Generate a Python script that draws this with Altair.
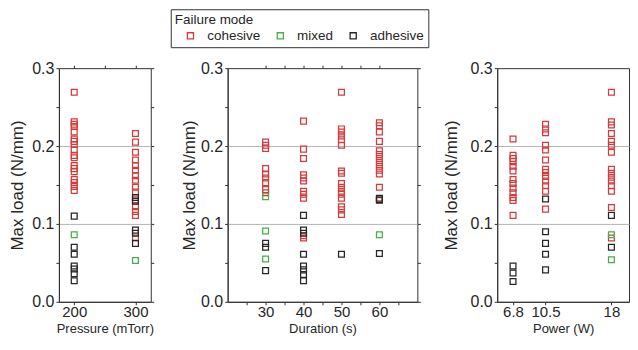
import altair as alt
import pandas as pd

# ---------------- data ----------------
MODES = ["cohesive", "mixed", "adhesive"]
MODE_COLORS = ["#d63a3a", "#46ad4b", "#262626"]

pressure_ticks = [200, 300]
duration_ticks = [30, 40, 50, 60]
power_ticks = [6.8, 10.5, 18]

# Pressure (mTorr)
p200_cohesive = [0.269, 0.231, 0.228, 0.225, 0.218, 0.209, 0.206, 0.202, 0.195, 0.188, 0.185,
                 0.175, 0.171, 0.167, 0.157, 0.153, 0.148, 0.143]
p200_mixed = [0.086]
p200_adhesive = [0.110, 0.070, 0.061, 0.046, 0.042, 0.036, 0.027]

p300_cohesive = [0.216, 0.205, 0.192, 0.182, 0.175, 0.169, 0.162, 0.156, 0.147, 0.141, 0.131,
                 0.122, 0.116, 0.111, 0.082]
p300_mixed = [0.053]
p300_adhesive = [0.134, 0.129, 0.092, 0.088, 0.075]

# Duration (s)
d30_cohesive = [0.205, 0.201, 0.197, 0.171, 0.164, 0.159, 0.153, 0.144, 0.140]
d30_mixed = [0.135, 0.091, 0.055]
d30_adhesive = [0.075, 0.070, 0.040]

d40_cohesive = [0.232, 0.196, 0.184, 0.163, 0.159, 0.155, 0.142, 0.138, 0.133, 0.085, 0.082]
d40_mixed = []
d40_adhesive = [0.111, 0.092, 0.088, 0.061, 0.046, 0.041, 0.035, 0.027]

d50_cohesive = [0.269, 0.222, 0.218, 0.213, 0.208, 0.201, 0.168, 0.165, 0.152, 0.147, 0.142,
                0.138, 0.133, 0.122, 0.118, 0.112]
d50_mixed = []
d50_adhesive = [0.061]

d60_cohesive = [0.230, 0.226, 0.218, 0.206, 0.194, 0.189, 0.184, 0.179, 0.174, 0.169, 0.164,
                0.147, 0.130]
d60_mixed = [0.086]
d60_adhesive = [0.133, 0.131, 0.062]

# Power (W)
w68_cohesive = [0.209, 0.188, 0.184, 0.180, 0.174, 0.168, 0.157, 0.152, 0.146, 0.140, 0.134,
                0.130, 0.111]
w68_mixed = []
w68_adhesive = [0.046, 0.037, 0.026]

w105_cohesive = [0.228, 0.222, 0.217, 0.201, 0.195, 0.182, 0.170, 0.166, 0.161, 0.155, 0.149,
                 0.142, 0.119]
w105_mixed = []
w105_adhesive = [0.132, 0.090, 0.075, 0.061, 0.041]

w18_cohesive = [0.269, 0.231, 0.227, 0.216, 0.206, 0.201, 0.192, 0.170, 0.165, 0.160, 0.155,
                0.149, 0.142, 0.121, 0.082]
w18_mixed = [0.086, 0.054]
w18_adhesive = [0.111, 0.070]


def rows(x, cohesive, mixed, adhesive):
    out = []
    for mode, vals in zip(MODES, [cohesive, mixed, adhesive]):
        for v in vals:
            out.append({"x": x, "mode": mode, "load": v})
    return out


pressure_df = pd.DataFrame(
    rows(200, p200_cohesive, p200_mixed, p200_adhesive)
    + rows(300, p300_cohesive, p300_mixed, p300_adhesive)
)
duration_df = pd.DataFrame(
    rows(30, d30_cohesive, d30_mixed, d30_adhesive)
    + rows(40, d40_cohesive, d40_mixed, d40_adhesive)
    + rows(50, d50_cohesive, d50_mixed, d50_adhesive)
    + rows(60, d60_cohesive, d60_mixed, d60_adhesive)
)
power_df = pd.DataFrame(
    rows(6.8, w68_cohesive, w68_mixed, w68_adhesive)
    + rows(10.5, w105_cohesive, w105_mixed, w105_adhesive)
    + rows(18, w18_cohesive, w18_mixed, w18_adhesive)
)

# ---------------- chart ----------------
Y_VALUES = [0.0, 0.05, 0.1, 0.15, 0.2, 0.25, 0.3]
MAJOR = "abs(datum.value * 10 - round(datum.value * 10)) < 0.001"
HEIGHT = 234

legend = alt.Legend(
    title="Failure mode",
    orient="none",
    legendX=112,
    legendY=-59,
    direction="horizontal",
    titleFontSize=13.5,
    titleFontWeight="normal",
    titleColor="#262626",
    titlePadding=2,
    labelFontSize=13.5,
    labelColor="#262626",
    labelOffset=10,
    symbolOffset=9,
    columnPadding=4,
    symbolType="square",
    symbolSize=38,
    symbolStrokeWidth=1.3,
    strokeColor="#333333",
    padding=4,
)


def panel(df, x_title, domain, bottom_vals, label_expr, top_vals, width, title_pad):
    y_axis = alt.Axis(
        title="Max load (N/mm)",
        values=Y_VALUES,
        labelExpr=f"{MAJOR} ? format(datum.value, '.1f') : ''",
        gridOpacity={
            "condition": {"test": f"{MAJOR} && datum.value > 0.01 && datum.value < 0.29", "value": 1},
            "value": 0,
        },
        titlePadding=title_pad,
        titleFontSize=17,
        labelFontSize=16,
    )
    points = alt.Chart(df).mark_point(
        shape="square", filled=False, size=34, strokeWidth=1.25, opacity=1
    ).encode(
        x=alt.X(
            "x:Q",
            scale=alt.Scale(domain=domain, nice=False, zero=False),
            axis=alt.Axis(title=x_title, values=bottom_vals, labelExpr=label_expr, grid=False),
        ),
        y=alt.Y("load:Q", scale=alt.Scale(domain=[0, 0.3], nice=False), axis=y_axis),
        color=alt.Color(
            "mode:N", scale=alt.Scale(domain=MODES, range=MODE_COLORS), legend=legend
        ),
    )
    layers = [points]
    if top_vals:
        overlay = alt.Chart(df).mark_point(opacity=0).encode(
            x=alt.X(
                "x:Q",
                axis=alt.Axis(orient="top", values=top_vals, labels=False, title=None,
                              domain=False, grid=False),
            ),
            y=alt.Y(
                "load:Q",
                axis=alt.Axis(orient="right", values=Y_VALUES, labels=False, title=None,
                              domain=False, grid=False),
            ),
        )
        layers.append(overlay)
    return (
        alt.layer(*layers)
        .resolve_axis(x="independent", y="independent")
        .properties(width=width, height=HEIGHT)
    )


p1 = panel(pressure_df, "Pressure (mTorr)", [175, 325], pressure_ticks,
           "format(datum.value, 'd')", [200, 250, 300], 92, 5)
p2 = panel(duration_df, "Duration (s)", [20, 70], [25, 30, 35, 40, 45, 50, 55, 60, 65],
           "round(datum.value) % 10 == 0 ? format(datum.value, 'd') : ''",
           [30, 35, 40, 45, 50, 55, 60], 190, 2)
p3 = panel(power_df, "Power (W)", [5, 20], power_ticks,
           "format(datum.value, '~g')", None, 132, 10)

chart = (
    alt.hconcat(alt.hconcat(p1, p2, spacing=25), p3, spacing=20)
    .properties(padding={"left": 0, "top": 0, "right": 0, "bottom": 0})
    .configure(font="Liberation Sans")
    .configure_axis(
        labelFont="Liberation Sans",
        titleFont="Liberation Sans",
        labelFontSize=15,
        titleFontSize=13,
        titleFontWeight="normal",
        labelColor="#262626",
        titleColor="#262626",
        domainColor="#333333",
        tickColor="#333333",
        tickSize=3,
        labelPadding=2,
        gridColor="#b5b5b5",
        gridWidth=1,
    )
    .configure_axisX(titlePadding=3, labelPadding=0)
    .configure_view(stroke="#333333", strokeWidth=1)
)

chart.save("out.html", embed_options={"renderer": "svg", "actions": False})
